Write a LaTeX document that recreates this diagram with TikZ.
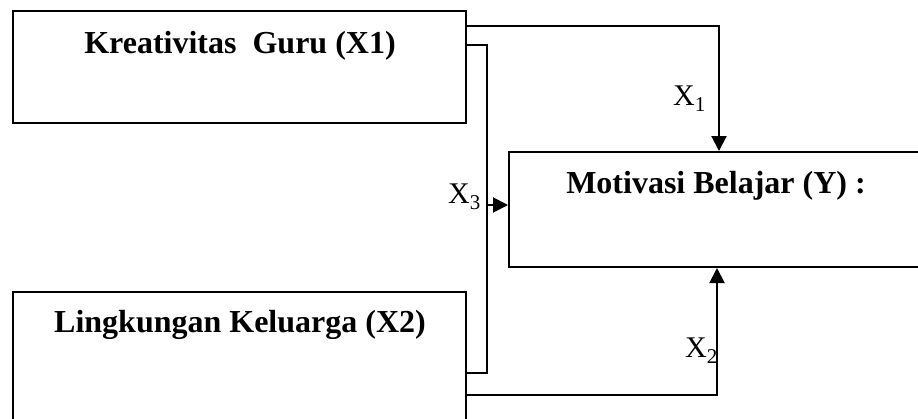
\documentclass[tikz,border=0pt]{standalone}
\usepackage{fontspec}
\setmainfont{Liberation Serif}
\usetikzlibrary{arrows.meta,calc}
\tikzset{
  boxframe/.style={draw=black, line width=2pt, rectangle, inner sep=0pt},
  boxtitle/.style={anchor=base, inner sep=0pt, font=\fontsize{32}{38}\selectfont\bfseries},
  conn/.style={draw=black, line width=2pt},
  tip/.style={-{Triangle[length=15pt,width=15pt]}},
  varlabel/.style={anchor=base west, inner sep=0pt, font=\fontsize{30}{34}\selectfont}
}
\newcommand{\varsub}[1]{X\raisebox{-0.22em}{\fontsize{21}{21}\selectfont #1}}
\begin{document}
\begin{tikzpicture}[x=1pt,y=-1pt]
  \useasboundingbox (0,0) rectangle (918,418);
  \clip (0,0) rectangle (918,418);
  \fill[white] (0,0) rectangle (918,418);

  % boxes
  \node[boxframe, minimum width=453pt, minimum height=112pt] (k) at (239.5,67) {};
  \node[boxframe, minimum width=451pt, minimum height=115pt] (y) at (734.5,209.5) {};
  \node[boxframe, minimum width=453pt, minimum height=168pt] (l) at (239.5,376) {};

  % box titles
  \node[boxtitle] (kt) at (240,53) {Kreativitas\ \ Guru (X1)};
  \node[boxtitle] (yt) at (716,193) {Motivasi Belajar (Y) :};
  \node[boxtitle] (lt) at (240,332) {Lingkungan Keluarga (X2)};

  % connector end points
  \coordinate (k1) at ($(k.north east)+(0,16)$);
  \coordinate (k3) at ($(k.north east)+(0,35)$);
  \coordinate (l3) at ($(l.north east)+(0,82)$);
  \coordinate (l2) at ($(l.north east)+(0,104)$);
  \coordinate (y1) at ($(y.north west)+(211,0)$);
  \coordinate (y2) at ($(y.south west)+(209,0)$);
  \coordinate (m3) at (487,205);
  \coordinate (y3) at (y.west |- m3);

  % connectors
  \draw[conn,tip] (k1) -| (y1);
  \draw[conn] (k3) -| (m3) |- (l3);
  \draw[conn,tip] (m3) -- (y3);
  \draw[conn,tip] (l2) -| (y2);

  % variable labels
  \node[varlabel] (x1) at (673,105) {\varsub{1}};
  \node[varlabel] (x3) at (448,203) {\varsub{3}};
  \node[varlabel] (x2) at (685,357) {\varsub{2}};
\end{tikzpicture}
\end{document}
